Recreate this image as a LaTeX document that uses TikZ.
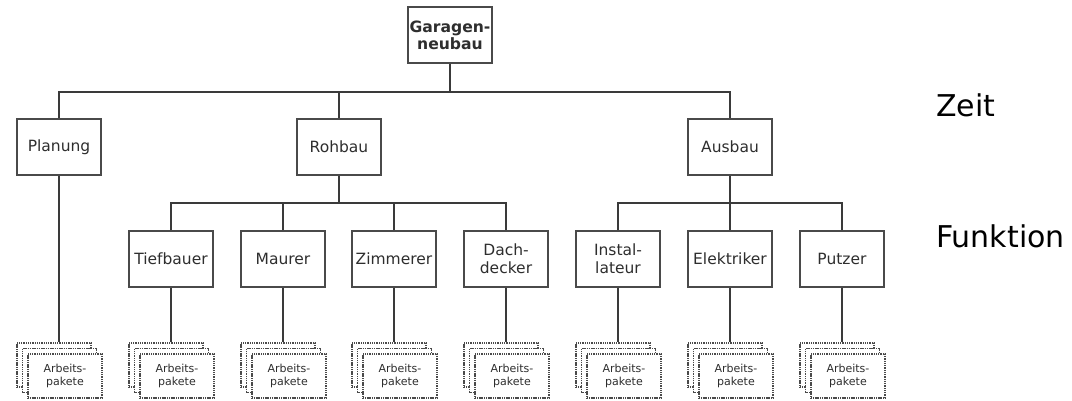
\documentclass[tikz,border=0pt]{standalone}
\usepackage{fontspec}
\setmainfont{DejaVu Sans}
\definecolor{ln}{HTML}{3A3A3A}
\definecolor{bx}{HTML}{4A4A4A}
\definecolor{tx}{HTML}{2E2E2E}
\begin{document}
\begin{tikzpicture}[x=1pt,y=-1pt,
  box/.style={draw=bx,line width=1.4pt,fill=white,minimum width=84pt,minimum height=56pt,
    inner sep=1pt,align=center,text=tx,font=\fontsize{15.5}{18}\selectfont},
  conn/.style={draw=ln,line width=1.4pt},
  thickconn/.style={draw=ln,line width=2.4pt},
  card/.style={draw=bx,line width=1.3pt,dash pattern=on 1.1pt off 0.7pt,fill=white,
    minimum width=74pt,minimum height=44pt,inner sep=0pt,align=center,text=tx,
    font=\fontsize{11}{13.5}\selectfont},
  side/.style={anchor=base west,inner sep=0pt,text=black,font=\fontsize{30}{34}\selectfont}]
\useasboundingbox[fill=white] (0,0) rectangle (1072,400);

% root
\node[box,font=\bfseries\fontsize{15.6}{17}\selectfont] (g) at (450,35) {Garagen-\\neubau};

% level 1
\node[box] (pl) at (59,147) {Planung};
\node[box] (rb) at (339,147) {Rohbau};
\node[box] (ab) at (730,147) {Ausbau};

% level 2
\node[box] (tb) at (171,259) {Tiefbauer};
\node[box] (ma) at (283,259) {Maurer};
\node[box] (zi) at (394,259) {Zimmerer};
\node[box] (dd) at (506,259) {Dach-\\decker};
\node[box] (in) at (618,259) {Instal-\\lateur};
\node[box] (el) at (730,259) {Elektriker};
\node[box] (pu) at (842,259) {Putzer};

% side labels
\node[side] (zeit) at (936,116) {Zeit};
\node[side] (funk) at (936,247) {Funktion};

% buses
\coordinate (b1) at (450,92);
\coordinate (b2) at (339,203);
\coordinate (b3) at (730,203);

\draw[conn] (g) -- (b1);
\draw[conn] (pl.north) -- (pl.north |- b1) -- (ab.north |- b1) -- (ab.north);
\draw[conn] (rb.north) -- (rb.north |- b1);

\draw[thickconn] (rb.south) -- (b2);
\draw[conn] (tb.north) -- (tb.north |- b2) -- (dd.north |- b2) -- (dd.north);
\draw[conn] (ma.north) -- (ma.north |- b2);
\draw[conn] (zi.north) -- (zi.north |- b2);

\draw[thickconn] (ab.south) -- (b3);
\draw[conn] (in.north) -- (in.north |- b3) -- (pu.north |- b3) -- (pu.north);
\draw[conn] (el.north) -- (el.north |- b3);

% work package stacks
\foreach \n/\cx in {pl/59,tb/171,ma/283,zi/394,dd/506,in/618,el/730,pu/842}{
  \node[card] (\n-a) at (\cx-5,365) {};
  \node[card] (\n-b) at (\cx+0.5,370.5) {};
  \node[card] (\n-c) at (\cx+6,376) {Arbeits-\\pakete};
  \draw[conn] (\n.south) -- (\n.south |- \n-a.north);
}
\end{tikzpicture}
\end{document}
